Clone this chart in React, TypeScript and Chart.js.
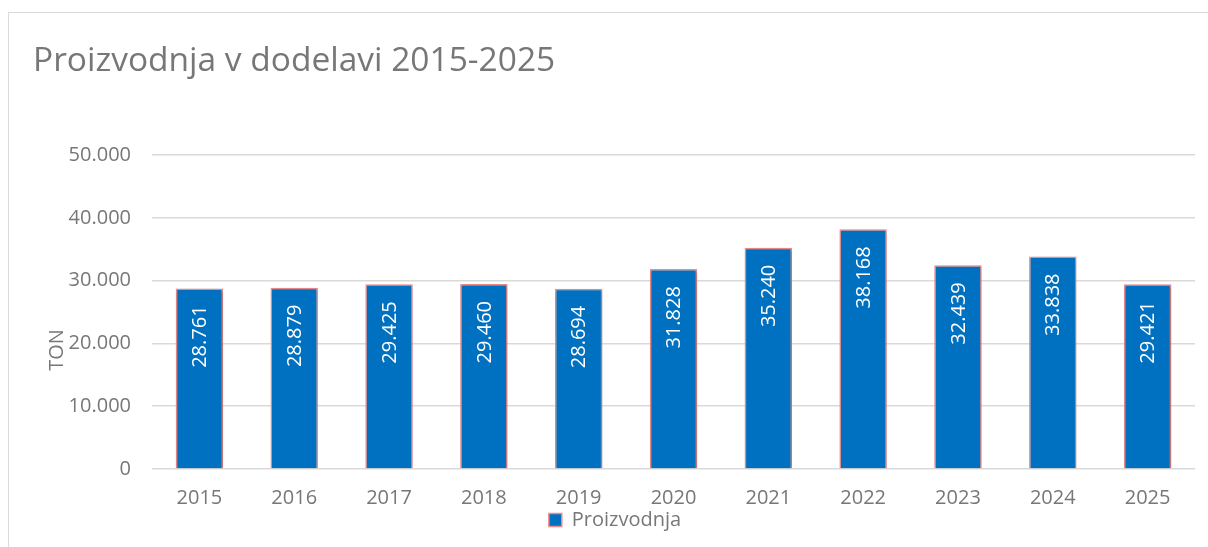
import React, { useEffect, useRef } from "react";
import { Chart, registerables } from "chart.js";

Chart.register(...registerables);

const titleText = "Proizvodnja v dodelavi 2015-2025";
const axisTitle = "TON";
const seriesLabel = "Proizvodnja";
const years = ["2015", "2016", "2017", "2018", "2019", "2020", "2021", "2022", "2023", "2024", "2025"];
const production = [28761, 28879, 29425, 29460, 28694, 31828, 35240, 38168, 32439, 33838, 29421];
const yTicks = [0, 10000, 20000, 30000, 40000, 50000];

const FONT = "'Open Sans', 'DejaVu Sans', sans-serif";
const GRAY = "#777777";

const fmt = (v: number) => {
  const s = Math.round(v).toString();
  return s.replace(/\B(?=(\d{3})+(?!\d))/g, ".");
};

const overlayPlugin = {
  id: "overlay",
  beforeDatasetsDraw(chart: any) {
    const ctx = chart.ctx;
    ctx.save();
    ctx.shadowColor = "rgba(0,0,0,0.28)";
    ctx.shadowBlur = 3;
    ctx.shadowOffsetX = 1;
    ctx.shadowOffsetY = 1;
  },
  afterDatasetsDraw(chart: any) {
    const ctx = chart.ctx;
    ctx.restore();
    const meta = chart.getDatasetMeta(0);
    ctx.save();
    ctx.fillStyle = "#ffffff";
    ctx.font = `20px ${FONT}`;
    ctx.textAlign = "right";
    ctx.textBaseline = "middle";
    meta.data.forEach((el: any, i: number) => {
      ctx.save();
      ctx.translate(el.x + 1, el.y + 17);
      ctx.rotate(-Math.PI / 2);
      ctx.fillText(fmt(production[i]), 0, 0);
      ctx.restore();
    });
    ctx.restore();
  },
  afterDraw(chart: any) {
    const ctx = chart.ctx;
    ctx.save();
    ctx.fillStyle = GRAY;
    ctx.font = `33.5px ${FONT}`;
    ctx.textAlign = "left";
    ctx.textBaseline = "alphabetic";
    ctx.fillText(titleText, 24, 58);
    ctx.font = `20px ${FONT}`;
    ctx.textAlign = "center";
    ctx.textBaseline = "middle";
    ctx.translate(48, 337);
    ctx.rotate(-Math.PI / 2);
    ctx.fillText(axisTitle, 0, 0);
    ctx.restore();
  },
};

export default function App() {
  const ref = useRef<HTMLCanvasElement | null>(null);
  useEffect(() => {
    if (!ref.current) return;
    const chart = new Chart(ref.current, {
      type: "bar",
      data: {
        labels: years,
        datasets: [
          {
            label: seriesLabel,
            data: production,
            backgroundColor: "#0070C0",
            borderColor: "#EF8B8B",
            borderWidth: 1.5,
            categoryPercentage: 1,
            barPercentage: 0.5,
          },
        ],
      },
      options: {
        animation: false,
        responsive: false,
        maintainAspectRatio: false,
        layout: { padding: { left: 26, right: 13, top: 142, bottom: 7 } },
        plugins: {
          title: { display: false },
          tooltip: { enabled: false },
          legend: {
            display: true,
            position: "bottom",
            labels: {
              color: GRAY,
              font: { family: FONT, size: 20 },
              boxWidth: 13,
              boxHeight: 13,
              padding: 4,
            },
          },
        },
        scales: {
          x: {
            grid: { display: false, drawTicks: false },
            border: { display: false },
            ticks: { color: GRAY, font: { family: FONT, size: 20 }, padding: 17 },
            afterFit(scale: any) {
              scale.height = 37;
            },
          },
          y: {
            min: 0,
            max: 50000,
            afterBuildTicks(scale: any) {
              scale.ticks = yTicks.map((v) => ({ value: v }));
            },
            grid: { color: "#D9D9D9", lineWidth: 1.5, drawTicks: false },
            border: { display: false },
            ticks: {
              color: GRAY,
              font: { family: FONT, size: 20 },
              padding: 21,
              callback: (v: any) => fmt(Number(v)),
            },
            afterFit(scale: any) {
              scale.width = 117;
            },
          },
        },
      },
      plugins: [overlayPlugin],
    });
    return () => chart.destroy();
  }, []);

  return (
    <div
      style={{
        position: "fixed",
        left: 8,
        top: 12,
        width: 1200,
        height: 535,
        borderLeft: "1px solid #D9D9D9",
        borderTop: "1px solid #D9D9D9",
        background: "#fff",
      }}
    >
      <canvas ref={ref} width={1199} height={534} style={{ display: "block" }} />
    </div>
  );
}
